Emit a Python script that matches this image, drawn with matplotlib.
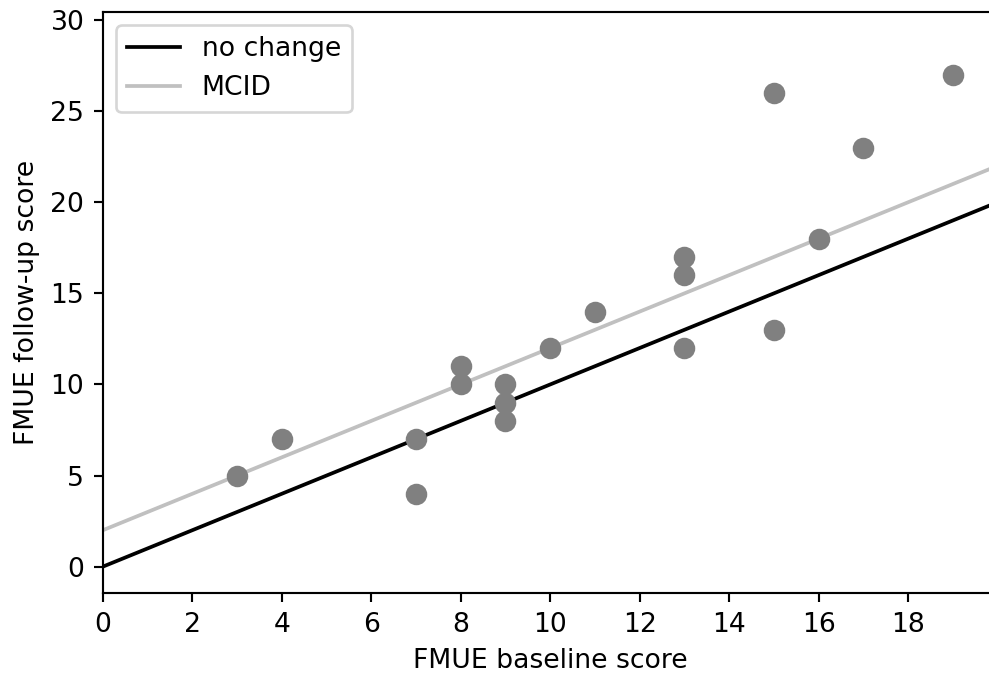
import matplotlib
matplotlib.use("Agg")
import matplotlib.pyplot as plt
import numpy as np

baseline = [3, 4, 7, 7, 8, 8, 9, 9, 9, 10, 11, 13, 13, 13, 15, 15, 16, 17, 19]
followup = [5, 7, 7, 4, 11, 10, 10, 9, 8, 12, 14, 17, 16, 12, 26, 13, 18, 23, 27]
line_x = [0, 20]
mcid = 2

DPI = 192
fig = plt.figure(figsize=(989 / DPI, 673 / DPI), dpi=DPI)
ax = fig.add_axes([103 / 989, 80 / 673, 894.4 / 989, 581 / 673])

lx = np.array(line_x)
ax.plot(lx, lx, color="black", lw=1.4, label="no change")
ax.plot(lx, lx + mcid, color="silver", lw=1.4, label="MCID")
ax.scatter(baseline, followup, s=50, color="gray", zorder=3)

ax.set_xlim(0, 20)
ax.set_ylim(-1.45, 30.45)
ax.set_xticks(np.arange(0, 20, 2))
ax.set_yticks(np.arange(0, 31, 5))
ax.set_xlabel("FMUE baseline score")
ax.set_ylabel("FMUE follow-up score")
ax.legend(loc="upper left")

fig.savefig("out.png", dpi=DPI)
